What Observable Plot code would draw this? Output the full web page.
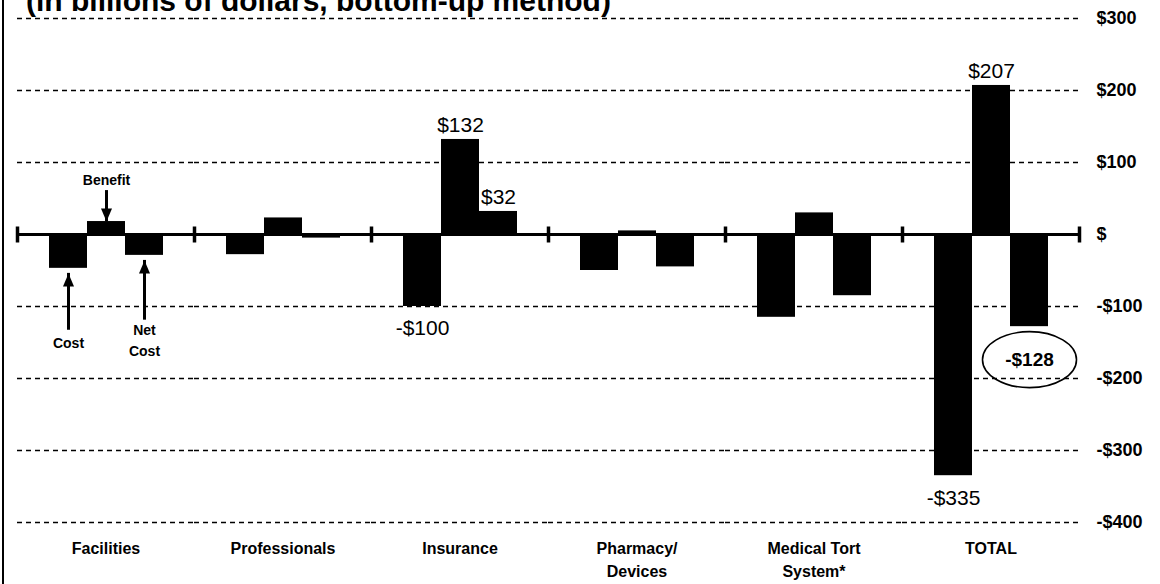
<!DOCTYPE html>
<html>
<head>
<meta charset="utf-8">
<script src="https://cdn.jsdelivr.net/npm/d3@7"></script>
<script src="https://cdn.jsdelivr.net/npm/@observablehq/plot@0.6"></script>
<style>
  html, body { margin: 0; padding: 0; background: #fff; }
  #wrap { position: relative; width: 1160px; height: 584px; overflow: hidden; background: #fff; }
  #title { position: absolute; left: 26px; top: -14px; font: bold 30px/1 "Liberation Sans", Arial, Helvetica, sans-serif; color: #000; white-space: nowrap; }
  #border { position: absolute; left: 2px; top: 0; width: 1.5px; height: 584px; background: #000; }
  #chart { position: absolute; left: 0; top: 0; }
</style>
</head>
<body>
<div id="wrap">
  <div id="chart"></div>
  <div id="title">(in billions of dollars, bottom-up method)</div>
  <div id="border"></div>
</div>
<script>
// ---- data ----
const categories = ["Facilities", "Professionals", "Insurance", "Pharmacy", "Tort", "TOTAL"];
const categoryLabels = ["Facilities", "Professionals", "Insurance", "Pharmacy/\nDevices", "Medical Tort\nSystem*", "TOTAL"];
const barTypes = ["Cost", "Benefit", "Net"];
const cost    = [-47, -28, -100, -50, -115, -335];
const benefit = [18, 23, 132, 5, 30, 207];
const net     = [-29, -5, 32, -45, -85, -128];
const gridTicks = [300, 200, 100, -100, -200, -300, -400];
const axisTicks = [300, 200, 100, 0, -100, -200, -300, -400];

// value labels
const labelsAbove = [
  {cat: "Insurance", type: "Benefit", v: 132, text: "$132"},
  {cat: "Insurance", type: "Net", v: 32, text: "$32"},
  {cat: "TOTAL", type: "Benefit", v: 207, text: "$207"}
];
const labelsBelow = [
  {cat: "Insurance", type: "Cost", v: -100, text: "-$100"},
  {cat: "TOTAL", type: "Cost", v: -335, text: "-$335"}
];
const circled = [{cat: "TOTAL", type: "Net", v: -128, text: "-$128"}];

// legend-like annotations in the Facilities group
const annoText = [
  {cat: "Facilities", type: "Benefit", y: 75, text: "Benefit"},
  {cat: "Facilities", type: "Cost", y: -151, text: "Cost"},
  {cat: "Facilities", type: "Net", y: -133, text: "Net"},
  {cat: "Facilities", type: "Net", y: -163, text: "Cost"}
];
const arrowsDown = [{cat: "Facilities", type: "Benefit", tail: 61, tip: 18}];
const arrowsUp = [
  {cat: "Facilities", type: "Cost", tail: -133, tip: -54},
  {cat: "Facilities", type: "Net", tail: -119, tip: -36}
];

// ---- tables built from the arrays ----
const rows = categories.flatMap((c, i) => [
  {cat: c, type: "Cost", v: cost[i]},
  {cat: c, type: "Benefit", v: benefit[i]},
  {cat: c, type: "Net", v: net[i]}
]);
const catRows = categories.map((c, i) => ({cat: c, label: categoryLabels[i]}));

// custom symbols
const vtick = {draw(ctx) { ctx.moveTo(0, -8); ctx.lineTo(0, 8); }};
const headDown = {draw(ctx) { ctx.moveTo(-5.5, -13); ctx.lineTo(5.5, -13); ctx.lineTo(0, 0); ctx.closePath(); }};
const headUp = {draw(ctx) { ctx.moveTo(-5.5, 13); ctx.lineTo(5.5, 13); ctx.lineTo(0, 0); ctx.closePath(); }};
const ellipse = {draw(ctx) {
  const rx = 47, ry = 28, k = 0.5523;
  ctx.moveTo(rx, 0);
  ctx.bezierCurveTo(rx, ry * k, rx * k, ry, 0, ry);
  ctx.bezierCurveTo(-rx * k, ry, -rx, ry * k, -rx, 0);
  ctx.bezierCurveTo(-rx, -ry * k, -rx * k, -ry, 0, -ry);
  ctx.bezierCurveTo(rx * k, -ry, rx, -ry * k, rx, 0);
  ctx.closePath();
}};

const fmt = d => d === 0 ? "$" : (d < 0 ? "-$" : "$") + Math.abs(d);

const chart = Plot.plot({
  width: 1160,
  height: 584,
  marginLeft: 15,
  marginRight: 80,
  marginTop: 18,
  marginBottom: 62,
  style: {fontFamily: "'Liberation Sans', Arial, Helvetica, sans-serif", fontSize: "18px", fontWeight: "bold", color: "#000", background: "transparent"},
  fx: {domain: categories, padding: 0, axis: null, label: null},
  x: {domain: barTypes, paddingInner: 0, paddingOuter: 0.8, axis: null},
  y: {domain: [-400, 300], axis: "right", ticks: axisTicks, tickFormat: fmt, tickSize: 0, tickPadding: 17, label: null},
  marks: [
    Plot.ruleY(gridTicks, {stroke: "#000", strokeWidth: 1.3, strokeDasharray: "5,4"}),
    Plot.barY(rows, {fx: "cat", x: "type", y: "v", fill: "#000"}),
    Plot.ruleY([0], {stroke: "#000", strokeWidth: 3}),
    Plot.dot([0], {y: d => d, frameAnchor: "left", symbol: vtick, stroke: "#000", strokeWidth: 3.5, fill: "none"}),
    Plot.dot([{cat: "TOTAL"}], {fx: "cat", y: () => 0, frameAnchor: "right", symbol: vtick, stroke: "#000", strokeWidth: 3.5, fill: "none"}),
    Plot.text(labelsAbove, {fx: "cat", x: "type", y: "v", text: "text", lineAnchor: "bottom", dy: -7, fontSize: 21, fontWeight: "normal"}),
    Plot.text(labelsBelow, {fx: "cat", x: "type", y: "v", text: "text", lineAnchor: "top", dy: 14, fontSize: 21, fontWeight: "normal"}),
    Plot.dot(circled, {fx: "cat", x: "type", y: "v", dy: 33, symbol: ellipse, stroke: "#000", strokeWidth: 1.6, fill: "none"}),
    Plot.text(circled, {fx: "cat", x: "type", y: "v", text: "text", dy: 33, fontSize: 19, fontWeight: "bold"}),
    Plot.text(annoText, {fx: "cat", x: "type", y: "y", text: "text", fontSize: 14, fontWeight: "bold"}),
    Plot.ruleX(arrowsDown, {fx: "cat", x: "type", y1: "tail", y2: "tip", stroke: "#000", strokeWidth: 3}),
    Plot.ruleX(arrowsUp, {fx: "cat", x: "type", y1: "tail", y2: "tip", stroke: "#000", strokeWidth: 3}),
    Plot.dot(arrowsDown, {fx: "cat", x: "type", y: "tip", symbol: headDown, fill: "#000", stroke: "none"}),
    Plot.dot(arrowsUp, {fx: "cat", x: "type", y: "tip", symbol: headUp, fill: "#000", stroke: "none"}),
    Plot.text(catRows, {fx: "cat", text: "label", frameAnchor: "bottom", lineAnchor: "top", dy: 16, fontSize: 16, fontWeight: "bold", lineHeight: 1.4})
  ]
});
document.getElementById("chart").appendChild(chart);
</script>
</body>
</html>
